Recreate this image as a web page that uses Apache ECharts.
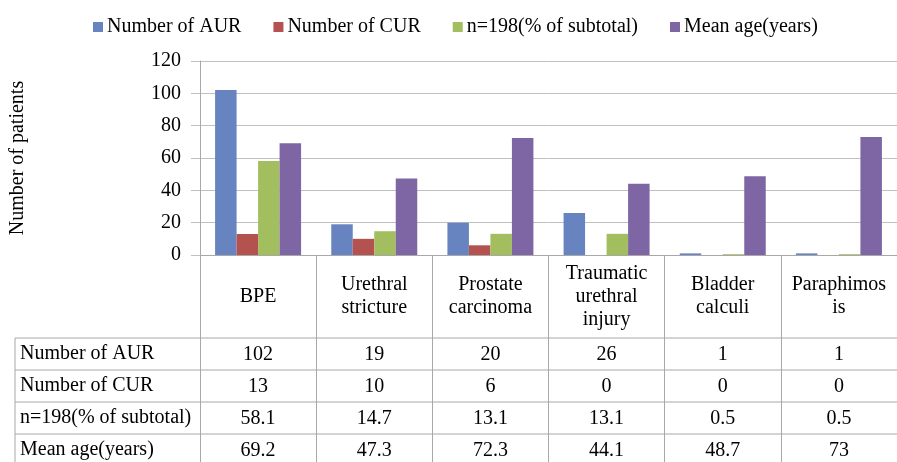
<!DOCTYPE html>
<html>
<head>
<meta charset="utf-8">
<script src="https://cdn.jsdelivr.net/npm/echarts@6/dist/echarts.min.js"></script>
<style>
  html, body { margin: 0; padding: 0; background: #fff; }
  #chart { width: 897px; height: 462px; }
</style>
</head>
<body>
<div id="chart"></div>
<script>
// data
const categories = ['BPE', 'Urethral\nstricture', 'Prostate\ncarcinoma', 'Traumatic\nurethral\ninjury', 'Bladder\ncalculi', 'Paraphimos\nis']
const seriesNames = ['Number of AUR', 'Number of CUR', 'n=198(% of subtotal)', 'Mean age(years)']
const aur = [102, 19, 20, 26, 1, 1]
const cur = [13, 10, 6, 0, 0, 0]
const pct = [58.1, 14.7, 13.1, 13.1, 0.5, 0.5]
const age = [69.2, 47.3, 72.3, 44.1, 48.7, 73]
const values = [aur, cur, pct, age]
const colors = ['#6784C0', '#B3524E', '#A3BE5E', '#7E66A4']

const font = "'Liberation Serif', 'Times New Roman', serif"
const gridLeft = 199, gridTop = 61, gridW = 706, gridH = 194
const headerH = 83, rowH = 32, tableLeft = 15
const lineColor = '#A8A8A8'

const chart = echarts.init(document.getElementById('chart'))

const option = {
  animation: false,
  textStyle: { fontFamily: font, color: '#000' },
  legend: {
    left: 88,
    top: 12,
    itemWidth: 10,
    itemHeight: 10,
    itemGap: 32,
    icon: 'rect',
    textStyle: { fontFamily: font, fontSize: 20, color: '#000', padding: [0, 0, 0, -1] },
    data: seriesNames
  },
  grid: { left: gridLeft, top: gridTop, width: gridW, height: gridH },
  xAxis: {
    type: 'category',
    data: categories,
    axisLine: { lineStyle: { color: lineColor } },
    axisTick: { show: true, length: 220, lineStyle: { color: lineColor } },
    axisLabel: {
      margin: headerH / 2,
      verticalAlign: 'middle',
      fontFamily: font,
      fontSize: 20,
      lineHeight: 23,
      color: '#000',
      interval: 0
    }
  },
  yAxis: {
    type: 'value',
    min: 0,
    max: 120,
    interval: 20,
    name: 'Number of patients',
    nameLocation: 'middle',
    nameGap: 172,
    nameTextStyle: { fontFamily: font, fontSize: 20, color: '#000' },
    axisLine: { show: true, lineStyle: { color: lineColor } },
    axisTick: { show: true, length: 9, lineStyle: { color: '#C0C0C0' } },
    axisLabel: { margin: 19, fontFamily: font, fontSize: 20, color: '#000' },
    splitLine: { lineStyle: { color: '#C0C0C0' } }
  },
  series: seriesNames.map((n, i) => ({
    name: n,
    type: 'bar',
    data: values[i],
    barWidth: 21.5,
    barGap: '0%',
    itemStyle: { color: colors[i] }
  }))
}
chart.setOption(option)

// data table under the plot
const graphic = []
const tableTop = gridTop + gridH + headerH
const right = 897
const nRows = seriesNames.length
for (let r = 0; r < nRows; r++) {
  const y = tableTop + r * rowH
  graphic.push({ type: 'line', shape: { x1: tableLeft, y1: y, x2: right, y2: y }, style: { stroke: lineColor, lineWidth: 1 } })
  graphic.push({
    type: 'text', x: tableLeft + 5, y: y + rowH / 2,
    style: { text: seriesNames[r], font: '20px ' + font, fill: '#000', textVerticalAlign: 'middle', textAlign: 'left' }
  })
  for (let c = 0; c < categories.length; c++) {
    const cx = chart.convertToPixel({ xAxisIndex: 0 }, c)
    graphic.push({
      type: 'text', x: cx, y: y + rowH / 2 + 1,
      style: { text: String(values[r][c]), font: '20px ' + font, fill: '#000', textVerticalAlign: 'middle', textAlign: 'center' }
    })
  }
}
graphic.push({ type: 'line', shape: { x1: tableLeft, y1: tableTop, x2: tableLeft, y2: 470 }, style: { stroke: lineColor, lineWidth: 1 } })
chart.setOption({ graphic: graphic })
</script>
</body>
</html>
